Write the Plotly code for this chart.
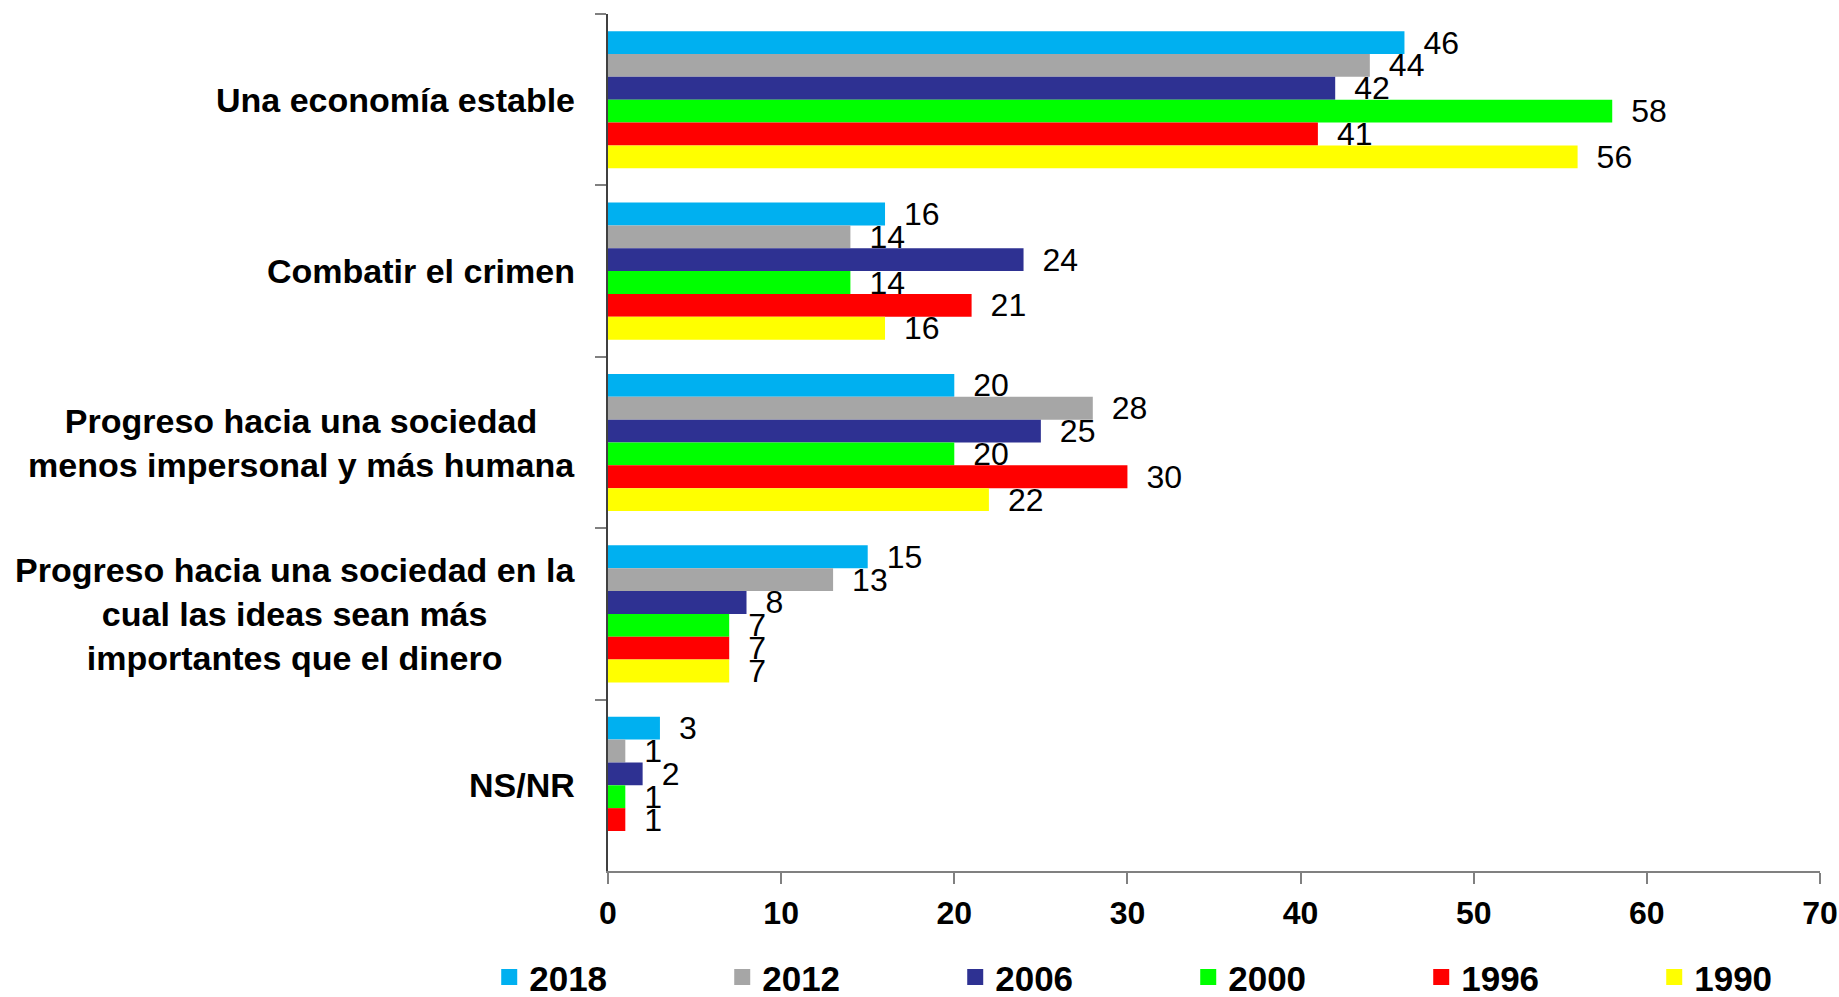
import plotly.graph_objects as go

categories = [
    "Una economía estable",
    "Combatir el crimen",
    "Progreso hacia una sociedad<br>menos impersonal y más humana",
    "Progreso hacia una sociedad en la<br>cual las ideas sean más<br>importantes que el dinero",
    "NS/NR",
]
years = ["2018", "2012", "2006", "2000", "1996", "1990"]
v2018 = [46, 16, 20, 15, 3]
v2012 = [44, 14, 28, 13, 1]
v2006 = [42, 24, 25, 8, 2]
v2000 = [58, 14, 20, 7, 1]
v1996 = [41, 21, 30, 7, 1]
v1990 = [56, 16, 22, 7, None]
series = [v2018, v2012, v2006, v2000, v1996, v1990]
colors = ["#00B0F0", "#A6A6A6", "#2E3192", "#00FF00", "#FF0000", "#FFFF00"]
x_ticks = [0, 10, 20, 30, 40, 50, 60, 70]

FONT = "Liberation Sans, Arial, sans-serif"
fig = go.Figure()

for name, vals, col in zip(years, series, colors):
    fig.add_trace(go.Bar(
        y=categories, x=vals, orientation="h", name=name,
        marker=dict(color=col, line=dict(width=0)),
        text=[("\u2002" + str(v)) if v is not None else "" for v in vals],
        textposition="outside", constraintext="none", cliponaxis=False,
        textfont=dict(family=FONT, size=32, color="black"),
        showlegend=False, legendgroup=name,
    ))
# legend entries (square swatches)
for name, col in zip(years, colors):
    fig.add_trace(go.Scatter(
        x=[None], y=[None], mode="markers", name=name, legendgroup=name,
        marker=dict(symbol="square", size=16, color=col),
        showlegend=True,
    ))

for cat in categories:
    fig.add_annotation(
        x=0, xref="paper", y=cat, yref="y", xanchor="right", yanchor="middle",
        xshift=-31, text="<b>" + cat.replace("<br>", "</b><br><b>") + "</b>",
        showarrow=False, align="center",
        font=dict(family=FONT, size=34, color="black"),
    )

fig.update_layout(
    width=1839, height=997,
    margin=dict(l=608, r=19, t=14, b=126, autoexpand=False),
    paper_bgcolor="white", plot_bgcolor="white",
    barmode="group", bargap=0.2, bargroupgap=0,
    font=dict(family=FONT, color="black"),
    legend=dict(
        orientation="h", xref="paper", yref="paper",
        x=-0.098, y=-0.124, xanchor="left", yanchor="middle",
        entrywidth=188, entrywidthmode="pixels",
        font=dict(family=FONT, size=35, color="black", weight="bold"),
        itemclick=False,
    ),
    xaxis=dict(
        range=[0, 70], tickvals=x_ticks, ticktext=[f"<b>{t}</b>" for t in x_ticks],
        showgrid=False, zeroline=False,
        showline=True, linecolor="#808080", linewidth=2,
        ticks="outside", ticklen=11, tickcolor="#808080", tickwidth=1.5,
        tickfont=dict(family=FONT, size=32, color="black"),
        ticklabelstandoff=2,
    ),
    yaxis=dict(
        categoryorder="array", categoryarray=categories,
        autorange="reversed",
        showgrid=False, zeroline=False,
        showline=True, linecolor="#404040", linewidth=1.5,
        ticks="outside", ticklen=11, tickcolor="#808080", tickwidth=1.5,
        tickson="boundaries", showticklabels=False,
    ),
)

fig.write_html(
    "out.html",
    config={"displayModeBar": False},
    post_script="document.body.style.margin='0';document.body.style.overflow='hidden';",
)
